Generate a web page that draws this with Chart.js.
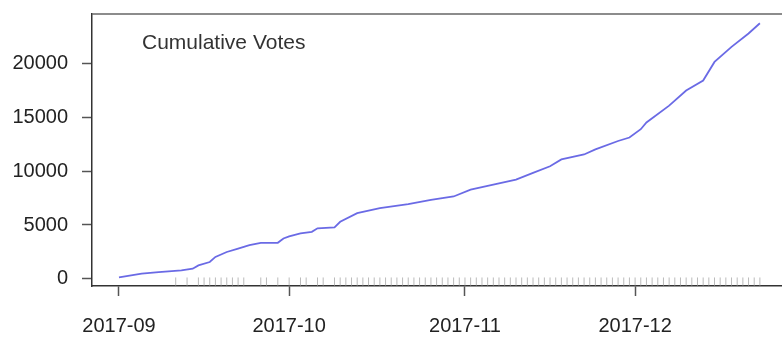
<!DOCTYPE html>
<html>
<head>
<meta charset="utf-8">
<script src="https://cdn.jsdelivr.net/npm/chart.js@4/dist/chart.umd.min.js"></script>
<style>
  html, body { margin: 0; padding: 0; background: #fff; }
  #wrap { width: 782px; height: 337px; position: relative; }
</style>
</head>
<body>
<div id="wrap"><canvas id="votesChart"></canvas></div>
<script>
// cumulative vote count
const voteDates = [
  "2017-09-01", "2017-09-05", "2017-09-08", "2017-09-12", "2017-09-14",
  "2017-09-15", "2017-09-17", "2017-09-18", "2017-09-20", "2017-09-22",
  "2017-09-24", "2017-09-26", "2017-09-29", "2017-09-30", "2017-10-01",
  "2017-10-03", "2017-10-05", "2017-10-06", "2017-10-09", "2017-10-10",
  "2017-10-13", "2017-10-17", "2017-10-22", "2017-10-26", "2017-10-30",
  "2017-11-02", "2017-11-06", "2017-11-10", "2017-11-13", "2017-11-16",
  "2017-11-18", "2017-11-22", "2017-11-24", "2017-11-28", "2017-11-30",
  "2017-12-02", "2017-12-03", "2017-12-07", "2017-12-10", "2017-12-13",
  "2017-12-15", "2017-12-18", "2017-12-21", "2017-12-23"
];
const voteTotals = [
  150, 490, 640, 800, 950,
  1260, 1570, 2040, 2500, 2820,
  3130, 3350, 3350, 3750, 3950,
  4220, 4370, 4690, 4780, 5300,
  6090, 6560, 6930, 7330, 7640,
  8270, 8730, 9200, 9830, 10440,
  11070, 11530, 12000, 12780, 13100,
  13870, 14500, 16050, 17450, 18380,
  20100, 21500, 22740, 23680
];

// rug of days with votes (day of month)
const rugSep = [11, 13, 15, 16, 17, 18, 19, 20, 21, 22, 23, 26, 27, 29];
const rugOct = [1, 3, 4, 6, 7, 9, 10, 11, 12, 13, 14, 15, 16, 17, 18, 19, 20, 21, 22, 23, 24, 25, 26, 27, 28, 29, 30, 31];
const rugNov = [1, 2, 3, 4, 5, 6, 7, 8, 9, 10, 11, 12, 13, 14, 15, 16, 17, 18, 19, 20, 21, 22, 23, 24, 25, 26, 27, 28, 29, 30];
const rugDec = [1, 2, 3, 4, 5, 6, 7, 8, 9, 10, 11, 12, 13, 14, 15, 16, 17, 18, 19, 20, 21, 22, 23];

const monthLabels = ["2017-09", "2017-10", "2017-11", "2017-12"];
const monthStarts = ["2017-09-01", "2017-10-01", "2017-11-01", "2017-12-01"];
const yTicks = [0, 5000, 10000, 15000, 20000];

const origin = Date.UTC(2017, 8, 1);
function dayOf(s) {
  return (Date.parse(s + "T00:00:00Z") - origin) / 86400000;
}

const linePoints = voteDates.map((d, i) => ({ x: dayOf(d), y: voteTotals[i] }));
const rugPoints = [];
[["09", rugSep], ["10", rugOct], ["11", rugNov], ["12", rugDec]].forEach(([m, days]) => {
  days.forEach(d => {
    rugPoints.push({ x: dayOf("2017-" + m + "-" + String(d).padStart(2, "0")), y: -230 });
  });
});

const FONT = "'Liberation Sans', Arial, Helvetica, sans-serif";

const boxAndTitle = {
  id: "boxAndTitle",
  afterDraw(chart) {
    const { ctx, chartArea } = chart;
    ctx.save();
    ctx.strokeStyle = "#666";
    ctx.lineWidth = 1.5;
    ctx.beginPath();
    ctx.moveTo(chartArea.left, chartArea.top);
    ctx.lineTo(chartArea.right, chartArea.top);
    ctx.stroke();
    ctx.fillStyle = "#333";
    ctx.font = "21px " + FONT;
    ctx.textBaseline = "alphabetic";
    ctx.fillText("Cumulative Votes", 142, 49);
    ctx.restore();
  }
};

new Chart(document.getElementById("votesChart"), {
  type: "line",
  data: {
    datasets: [{
      label: "Cumulative Votes",
      data: linePoints,
      borderColor: "rgba(80, 80, 225, 0.85)",
      borderWidth: 1.8,
      pointRadius: 0,
      tension: 0,
      fill: false
    }, {
      type: "scatter",
      label: "rug",
      data: rugPoints,
      pointStyle: "line",
      rotation: 90,
      radius: 4,
      borderColor: "#bbb",
      borderWidth: 1,
      backgroundColor: "#bbb"
    }]
  },
  options: {
    responsive: true,
    maintainAspectRatio: false,
    animation: false,
    layout: { autoPadding: false, padding: { top: 14, right: 0, left: 0, bottom: 0 } },
    plugins: {
      legend: { display: false },
      tooltip: { enabled: false }
    },
    scales: {
      x: {
        type: "linear",
        min: -4.76,
        max: 116.9,
        afterBuildTicks: scale => {
          scale.ticks = monthStarts.map(d => ({ value: dayOf(d) }));
        },
        afterFit: scale => {
          scale.height = 51;
          scale.paddingLeft = 0;
          scale.paddingRight = 0;
        },
        grid: { drawOnChartArea: false, drawTicks: true, tickLength: 10, tickColor: "#555", tickWidth: 1.5 },
        border: { display: true, color: "#333", width: 1.5 },
        ticks: {
          autoSkip: false,
          maxRotation: 0,
          padding: 18,
          color: "#222",
          font: { family: FONT, size: 20 },
          callback: (v, i) => monthLabels[i]
        }
      },
      y: {
        type: "linear",
        min: -650,
        max: 24540,
        afterBuildTicks: scale => {
          scale.ticks = yTicks.map(v => ({ value: v }));
        },
        afterFit: scale => {
          scale.width = 92;
          scale.paddingTop = 0;
          scale.paddingBottom = 0;
        },
        grid: { drawOnChartArea: false, drawTicks: true, tickLength: 10, tickColor: "#555", tickWidth: 1.5 },
        border: { display: true, color: "#333", width: 1.5 },
        ticks: {
          padding: 14,
          color: "#222",
          font: { family: FONT, size: 20 },
          callback: v => String(v)
        }
      }
    }
  },
  plugins: [boxAndTitle]
});
</script>
</body>
</html>
